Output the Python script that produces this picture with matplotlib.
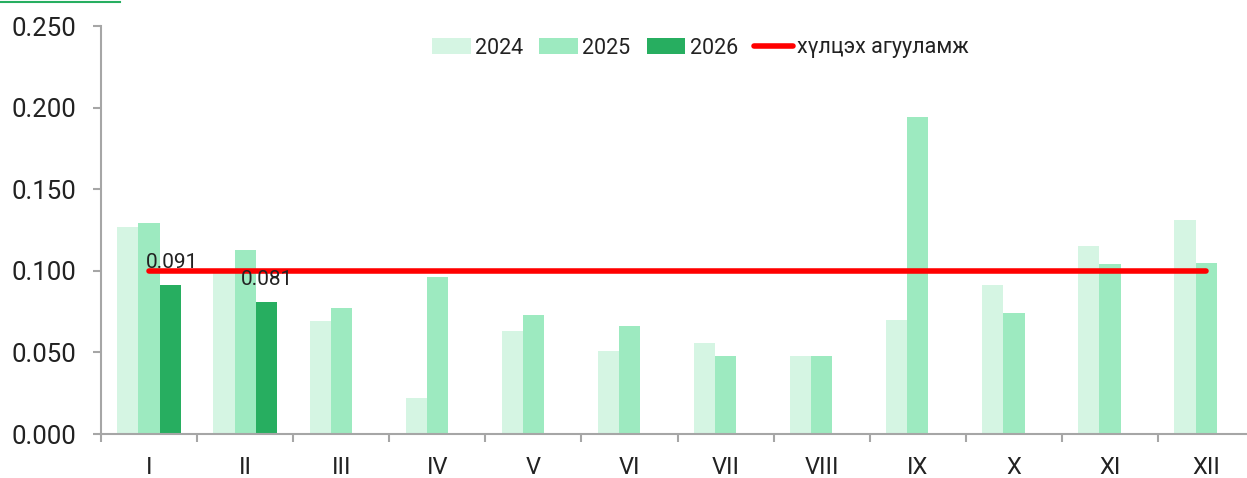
import matplotlib.pyplot as plt
from matplotlib.lines import Line2D
import numpy as np

plt.rcParams['font.family'] = ['Roboto', 'DejaVu Sans']

months = ['I', 'II', 'III', 'IV', 'V', 'VI', 'VII', 'VIII', 'IX', 'X', 'XI', 'XII']
v2024 = [0.127, 0.101, 0.069, 0.022, 0.063, 0.051, 0.056, 0.048, 0.070, 0.091, 0.115, 0.131]
v2025 = [0.129, 0.113, 0.077, 0.096, 0.073, 0.066, 0.048, 0.048, 0.194, 0.074, 0.104, 0.105]
v2026 = [0.091, 0.081]
target = [0.100] * 12
labels_2026 = ['0.091', '0.081']

c24 = '#d5f5e3'
c25 = '#9deac0'
c26 = '#27ae60'
grey = '#a6a6a6'
txt = '#222222'

fig = plt.figure(figsize=(12.47, 4.78), dpi=100)
ax = fig.add_axes([101 / 1247, 44 / 478, 12 * 96.1 / 1247, 408 / 478])

x = np.arange(len(months))
w = 0.22
b1 = ax.bar(x - w, v2024, w, color=c24, label='2024')
b2 = ax.bar(x, v2025, w, color=c25, label='2025')
b3 = ax.bar(x[:len(v2026)] + w, v2026, w, color=c26, label='2026')
ln, = ax.plot(x, target, color='#ff0000', lw=4, solid_capstyle='round',
              label='хүлцэх агууламж')

ax.text(-0.03, 0.1017, labels_2026[0], fontsize=15, color=txt, va='baseline')
ax.text(0.957, 0.0913, labels_2026[1], fontsize=15, color=txt, va='baseline')

ax.set_xlim(-0.5, 11.5)
ax.set_ylim(0, 0.25)
ax.set_yticks(np.arange(0, 0.251, 0.05))
ax.set_yticklabels(['%.3f' % t for t in np.arange(0, 0.251, 0.05)])
ax.set_xticks(np.arange(-0.5, 11.5, 1))
ax.set_xticklabels([])
ax.set_xticks(x, minor=True)
ax.set_xticklabels(months, minor=True)

for s in ['top', 'right']:
    ax.spines[s].set_visible(False)
for s in ['left', 'bottom']:
    ax.spines[s].set_color(grey)
    ax.spines[s].set_linewidth(1.5)

ax.tick_params(axis='y', length=6, width=1.5, color=grey, pad=12,
               labelsize=18.5, labelcolor=txt)
ax.tick_params(axis='x', which='major', length=6, width=1.5, color=grey)
ax.tick_params(axis='x', which='minor', length=0, pad=16,
               labelsize=17, labelcolor=txt)

leg = ax.legend(handles=[b1, b2, b3, ln],
                loc='center left', bbox_to_anchor=(432 / 1247, 1 - 48 / 478),
                bbox_transform=fig.transFigure, ncol=4, frameon=False,
                fontsize=15.5, borderpad=0, borderaxespad=0,
                handlelength=1.8, handletextpad=0.2, columnspacing=0.75)
for t in leg.get_texts():
    t.set_color(txt)

fig.add_artist(Line2D([0, 120 / 1247], [1 - 1.5 / 478, 1 - 1.5 / 478],
                      transform=fig.transFigure, color=c26, lw=1.5))

fig.savefig('out.png', dpi=100)
